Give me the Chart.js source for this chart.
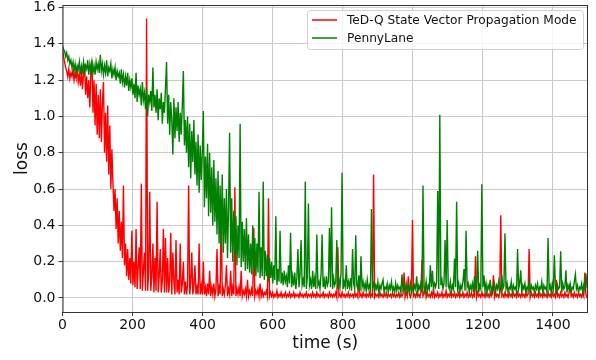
<!DOCTYPE html>
<html>
<head>
<meta charset="utf-8">
<script src="https://cdn.jsdelivr.net/npm/chart.js@4.4.1/dist/chart.umd.min.js"></script>
<style>
html, body { margin: 0; padding: 0; background: #fff; }
</style>
</head>
<body>
<canvas id="lossChart" width="596" height="360"></canvas>
<script>
// one sample every 3 s (10 samples = 30 s per row)
const timeStep = 3;
const seriesNames = ['TeD-Q State Vector Propagation Mode', 'PennyLane'];
const xTicks = [0, 200, 400, 600, 800, 1000, 1200, 1400];
const yTicks = [0, 0.2, 0.4, 0.6, 0.8, 1.0, 1.2, 1.4, 1.6];

const tedqLoss = [
    1.37, 1.33, 1.30, 1.27, 1.25, 1.22, 1.26, 1.21, 1.24, 1.22,
    1.26, 1.20, 1.24, 1.21, 1.27, 1.19, 1.23, 1.17, 1.25, 1.15,
    1.24, 1.29, 1.12, 1.22, 1.10, 1.20, 1.05, 1.24, 1.31, 1.02,
    1.20, 0.95, 1.18, 0.90, 1.12, 0.88, 1.15, 0.86, 1.08, 1.19,
    0.80, 1.02, 0.75, 1.06, 0.68, 0.95, 0.60, 0.82, 0.63, 0.48,
    0.60, 0.38, 0.55, 0.30, 0.48, 0.26, 0.42, 0.22, 0.62, 0.18,
    0.30, 0.12, 0.27, 0.10, 0.22, 0.08, 0.37, 0.07, 0.20, 0.06,
    0.38, 0.05, 0.17, 0.28, 0.05, 0.63, 0.04, 0.15, 0.25, 0.04,
    1.54, 0.04, 0.14, 0.585, 0.04, 0.12, 0.30, 0.03, 0.22, 0.04,
    0.53, 0.03, 0.12, 0.27, 0.03, 0.10, 0.38, 0.03, 0.33, 0.03,
    0.22, 0.03, 0.10, 0.36, 0.02, 0.25, 0.09, 0.02, 0.32, 0.03,
    0.10, 0.02, 0.30, 0.03, 0.08, 0.20, 0.02, 0.09, 0.02, 0.07,
    0.62, 0.02, 0.08, 0.25, 0.02, 0.07, 0.18, 0.02, 0.06, 0.02,
    0.30, 0.02, 0.07, 0.02, 0.20, 0.02, 0.06, 0.01, 0.08, 0.02,
    0.15, 0.01, 0.06, 0.02, 0.08, 0.01, 0.05, 0.27, 0.01, 0.06,
    0.02, 0.52, 0.01, 0.05, 0.02, 0.07, 0.18, 0.01, 0.05, 0.02,
    0.15, 0.01, 0.06, 0.02, 0.61, 0.01, 0.05, 0.02, 0.06, 0.01,
    0.15, 0.01, 0.04, 0.02, 0.05, 0.01, 0.10, 0.01, 0.04, 0.02,
    0.05, 0.01, 0.385, 0.01, 0.04, 0.02, 0.05, 0.01, 0.08, 0.01,
    0.04, 0.01, 0.03, 0.02, 0.04, 0.01, 0.55, 0.01, 0.03, 0.01,
    0.03, 0.005, 0.02, 0.01, 0.04, 0.005, 0.02, 0.01, 0.03, 0.005,
    0.02, 0.01, 0.03, 0.005, 0.02, 0.01, 0.03, 0.005, 0.02, 0.01,
    0.03, 0.005, 0.02, 0.01, 0.02, 0.005, 0.03, 0.01, 0.02, 0.005,
    0.02, 0.01, 0.03, 0.005, 0.02, 0.01, 0.02, 0.005, 0.03, 0.01,
    0.02, 0.005, 0.03, 0.01, 0.02, 0.005, 0.02, 0.01, 0.03, 0.005,
    0.02, 0.01, 0.02, 0.005, 0.03, 0.01, 0.02, 0.005, 0.02, 0.01,
    0.03, 0.005, 0.28, 0.01, 0.02, 0.005, 0.03, 0.01, 0.02, 0.005,
    0.02, 0.01, 0.03, 0.005, 0.02, 0.01, 0.02, 0.005, 0.03, 0.01,
    0.02, 0.005, 0.125, 0.01, 0.02, 0.005, 0.03, 0.01, 0.02, 0.005,
    0.02, 0.01, 0.03, 0.005, 0.02, 0.01, 0.68, 0.005, 0.02, 0.01,
    0.02, 0.005, 0.03, 0.01, 0.02, 0.005, 0.02, 0.01, 0.03, 0.005,
    0.02, 0.01, 0.02, 0.005, 0.03, 0.01, 0.02, 0.005, 0.02, 0.01,
    0.03, 0.005, 0.02, 0.01, 0.02, 0.14, 0.005, 0.03, 0.01, 0.12,
    0.02, 0.005, 0.03, 0.43, 0.01, 0.02, 0.005, 0.03, 0.01, 0.02,
    0.005, 0.03, 0.21, 0.01, 0.02, 0.06, 0.005, 0.03, 0.01, 0.02,
    0.005, 0.03, 0.01, 0.05, 0.005, 0.02, 0.01, 0.03, 0.005, 0.02,
    0.01, 0.03, 0.005, 0.02, 0.01, 0.04, 0.005, 0.02, 0.01, 0.03,
    0.005, 0.02, 0.01, 0.03, 0.005, 0.02, 0.01, 0.03, 0.005, 0.02,
    0.01, 0.03, 0.005, 0.02, 0.01, 0.03, 0.005, 0.02, 0.01, 0.03,
    0.005, 0.02, 0.01, 0.23, 0.005, 0.03, 0.01, 0.02, 0.005, 0.03,
    0.01, 0.02, 0.005, 0.03, 0.01, 0.02, 0.005, 0.03, 0.01, 0.02,
    0.125, 0.005, 0.03, 0.01, 0.02, 0.005, 0.03, 0.456, 0.01, 0.02,
    0.005, 0.03, 0.01, 0.02, 0.005, 0.03, 0.01, 0.02, 0.005, 0.03,
    0.01, 0.02, 0.005, 0.03, 0.01, 0.02, 0.005, 0.03, 0.01, 0.02,
    0.005, 0.03, 0.01, 0.02, 0.27, 0.005, 0.03, 0.01, 0.02, 0.005,
    0.03, 0.01, 0.02, 0.005, 0.03, 0.01, 0.02, 0.005, 0.03, 0.01,
    0.02, 0.005, 0.03, 0.01, 0.02, 0.005, 0.03, 0.01, 0.02, 0.005,
    0.10, 0.01, 0.02, 0.005, 0.03, 0.01, 0.02, 0.005, 0.03, 0.01,
    0.02, 0.005, 0.03, 0.08, 0.01, 0.02, 0.005, 0.03, 0.01, 0.02,
    0.005, 0.03, 0.01, 0.02, 0.005, 0.03, 0.01, 0.14, 0.02, 0.005,
    0.02
];

const pennyLaneLoss = [
    1.39, 1.37, 1.36, 1.33, 1.35, 1.31, 1.33, 1.29, 1.31, 1.27,
    1.30, 1.25, 1.29, 1.24, 1.28, 1.26, 1.30, 1.23, 1.28, 1.25,
    1.30, 1.24, 1.28, 1.26, 1.31, 1.23, 1.29, 1.25, 1.30, 1.24,
    1.28, 1.23, 1.30, 1.26, 1.29, 1.24, 1.34, 1.25, 1.29, 1.23,
    1.28, 1.24, 1.31, 1.22, 1.27, 1.25, 1.29, 1.21, 1.26, 1.23,
    1.27, 1.20, 1.25, 1.22, 1.24, 1.18, 1.26, 1.19, 1.23, 1.16,
    1.22, 1.17, 1.24, 1.14, 1.20, 1.16, 1.21, 1.12, 1.18, 1.10,
    1.24, 1.08, 1.17, 1.12, 1.15, 1.06, 1.19, 1.09, 1.13, 1.04,
    1.16, 1.00, 1.12, 1.08, 1.14, 1.03, 1.27, 1.05, 1.12, 1.02,
    1.15, 0.98, 1.10, 1.04, 1.13, 0.96, 1.08, 1.02, 1.16, 1.30,
    0.96, 1.12, 0.90, 1.08, 0.98, 0.79, 1.10, 0.88, 1.05, 0.92,
    1.08, 0.86, 1.02, 0.90, 1.06, 1.25, 0.84, 0.98, 0.80, 1.00,
    0.72, 0.96, 0.66, 0.92, 0.75, 0.98, 0.68, 0.86, 0.62, 0.90,
    0.58, 0.84, 0.65, 0.80, 1.03, 0.50, 0.78, 0.55, 0.85, 0.45,
    0.80, 0.47, 0.72, 0.40, 0.76, 0.42, 0.66, 0.35, 0.70, 0.30,
    0.62, 0.28, 0.68, 0.25, 0.55, 0.30, 0.60, 0.22, 0.50, 0.91,
    0.25, 0.55, 0.20, 0.48, 0.24, 0.45, 0.18, 0.40, 0.22, 0.96,
    0.17, 0.42, 0.20, 0.38, 0.15, 0.44, 0.16, 0.35, 0.14, 0.30,
    0.13, 0.40, 0.15, 0.33, 0.12, 0.30, 0.14, 0.585, 0.11, 0.28,
    0.12, 0.64, 0.10, 0.26, 0.12, 0.24, 0.09, 0.22, 0.11, 0.20,
    0.08, 0.18, 0.10, 0.45, 0.07, 0.16, 0.09, 0.37, 0.08, 0.14,
    0.07, 0.15, 0.09, 0.12, 0.06, 0.18, 0.08, 0.36, 0.06, 0.12,
    0.07, 0.14, 0.05, 0.11, 0.27, 0.06, 0.13, 0.32, 0.07, 0.10,
    0.06, 0.64, 0.05, 0.12, 0.52, 0.07, 0.10, 0.05, 0.15, 0.06,
    0.11, 0.05, 0.35, 0.07, 0.09, 0.05, 0.13, 0.35, 0.06, 0.10,
    0.05, 0.12, 0.07, 0.09, 0.385, 0.06, 0.50, 0.05, 0.11, 0.07,
    0.09, 0.32, 0.05, 0.10, 0.06, 0.14, 0.69, 0.05, 0.09, 0.06,
    0.18, 0.05, 0.09, 0.06, 0.11, 0.04, 0.27, 0.08, 0.05, 0.346,
    0.07, 0.05, 0.12, 0.04, 0.23, 0.06, 0.09, 0.05, 0.08, 0.04,
    0.10, 0.05, 0.07, 0.04, 0.49, 0.06, 0.08, 0.04, 0.07, 0.05,
    0.09, 0.03, 0.07, 0.05, 0.08, 0.10, 0.03, 0.06, 0.05, 0.08,
    0.03, 0.07, 0.05, 0.09, 0.04, 0.06, 0.03, 0.08, 0.04, 0.07,
    0.05, 0.06, 0.03, 0.13, 0.05, 0.07, 0.04, 0.08, 0.03, 0.06,
    0.04, 0.08, 0.03, 0.06, 0.04, 0.07, 0.05, 0.12, 0.03, 0.07,
    0.05, 0.08, 0.03, 0.62, 0.06, 0.04, 0.09, 0.03, 0.07, 0.05,
    0.18, 0.06, 0.15, 0.05, 0.08, 0.06, 0.09, 0.59, 0.05, 1.01,
    0.07, 0.10, 0.05, 0.08, 0.32, 0.06, 0.43, 0.07, 0.05, 0.09,
    0.03, 0.07, 0.05, 0.218, 0.06, 0.53, 0.05, 0.08, 0.03, 0.07,
    0.05, 0.09, 0.16, 0.04, 0.37, 0.06, 0.08, 0.03, 0.07, 0.05,
    0.08, 0.03, 0.12, 0.06, 0.04, 0.26, 0.03, 0.07, 0.05, 0.626,
    0.06, 0.125, 0.04, 0.08, 0.03, 0.07, 0.05, 0.10, 0.03, 0.06,
    0.05, 0.08, 0.03, 0.07, 0.05, 0.09, 0.03, 0.06, 0.125, 0.05,
    0.07, 0.356, 0.05, 0.08, 0.03, 0.06, 0.05, 0.09, 0.03, 0.07,
    0.05, 0.06, 0.03, 0.27, 0.05, 0.08, 0.153, 0.03, 0.07, 0.05,
    0.08, 0.03, 0.06, 0.05, 0.09, 0.03, 0.07, 0.05, 0.06, 0.03,
    0.07, 0.05, 0.08, 0.03, 0.06, 0.05, 0.09, 0.03, 0.07, 0.05,
    0.06, 0.03, 0.33, 0.05, 0.07, 0.03, 0.08, 0.05, 0.236, 0.06,
    0.03, 0.07, 0.05, 0.06, 0.258, 0.03, 0.08, 0.05, 0.06, 0.153,
    0.03, 0.07, 0.05, 0.08, 0.03, 0.06, 0.05, 0.09, 0.13, 0.05,
    0.07, 0.03, 0.06, 0.05, 0.08, 0.03, 0.07, 0.05, 0.135, 0.06,
    0.05
];

const lineColors = ['#ff0000', '#008000'];

const toPoints = ys => ys.map((y, i) => ({ x: i * timeStep, y: y }));

// matplotlib-style box round the plot
const framePlugin = {
    id: 'frame',
    afterDatasetsDraw(chart) {
        const { ctx, chartArea: a } = chart;
        ctx.save();
        ctx.strokeStyle = '#333';
        ctx.lineWidth = 1;
        ctx.strokeRect(a.left + 0.5, a.top + 0.5, a.right - a.left - 1, a.bottom - a.top);
        ctx.restore();
    }
};

// legend box inside the plot, top right
const insetLegend = {
    id: 'insetLegend',
    afterDraw(chart) {
        const ctx = chart.ctx;
        const x = 307.5, y = 10.5, w = 276, h = 39;
        ctx.save();
        ctx.beginPath();
        ctx.roundRect(x, y, w, h, 3);
        ctx.fillStyle = 'rgba(255,255,255,0.8)';
        ctx.fill();
        ctx.strokeStyle = '#d0d0d0';
        ctx.lineWidth = 1;
        ctx.stroke();
        ctx.font = '12.2px "DejaVu Sans"';
        ctx.textBaseline = 'middle';
        seriesNames.forEach((name, i) => {
            const ly = 20 + i * 18;
            ctx.strokeStyle = lineColors[i];
            ctx.lineWidth = 1.5;
            ctx.beginPath();
            ctx.moveTo(312, ly);
            ctx.lineTo(337, ly);
            ctx.stroke();
            ctx.fillStyle = '#111';
            ctx.fillText(name, 347, ly + 0.5);
        });
        ctx.restore();
    }
};

const gridStyle = {
    color: '#cbcbcb',
    lineWidth: 1.1,
    tickLength: 4,
    tickColor: '#333',
    tickWidth: 1
};

new Chart(document.getElementById('lossChart'), {
    type: 'line',
    data: {
        datasets: [{
            label: seriesNames[0],
            data: toPoints(tedqLoss),
            borderColor: lineColors[0],
            borderWidth: 1.4,
            pointRadius: 0,
            tension: 0,
            order: 1
        },
        {
            label: seriesNames[1],
            data: toPoints(pennyLaneLoss),
            borderColor: lineColors[1],
            borderWidth: 1.4,
            pointRadius: 0,
            tension: 0,
            order: 0
        }]
    },
    options: {
        responsive: false,
        animation: false,
        layout: { padding: { top: 5, right: 8, bottom: 0, left: 0 } },
        plugins: {
            legend: { display: false },
            tooltip: { enabled: false }
        },
        scales: {
            x: {
                type: 'linear',
                min: 0,
                max: 1500,
                afterBuildTicks: s => { s.ticks = xTicks.map(v => ({ value: v })); },
                afterFit: s => { s.height = 48; s.paddingLeft = 0; s.paddingRight = 0; },
                grid: gridStyle,
                border: { display: false },
                ticks: {
                    autoSkip: false,
                    maxRotation: 0,
                    padding: 1,
                    color: '#111',
                    font: { family: 'DejaVu Sans', size: 14 },
                    callback: v => String(v)
                },
                title: {
                    display: true,
                    text: 'time (s)',
                    color: '#111',
                    font: { family: 'DejaVu Sans', size: 17 },
                    padding: { top: 0, bottom: 6 }
                }
            },
            y: {
                min: -0.077,
                max: 1.614,
                afterBuildTicks: s => { s.ticks = yTicks.map(v => ({ value: v })); },
                afterFit: s => { s.width = 62.5; s.paddingTop = 0; s.paddingBottom = 0; },
                grid: gridStyle,
                border: { display: false },
                ticks: {
                    padding: 3,
                    color: '#111',
                    font: { family: 'DejaVu Sans', size: 14 },
                    callback: v => v.toFixed(1)
                },
                title: {
                    display: true,
                    text: 'loss',
                    color: '#111',
                    font: { family: 'DejaVu Sans', size: 17 },
                    padding: { top: 12, bottom: 0 }
                }
            }
        }
    },
    plugins: [framePlugin, insetLegend]
});
</script>
</body>
</html>
